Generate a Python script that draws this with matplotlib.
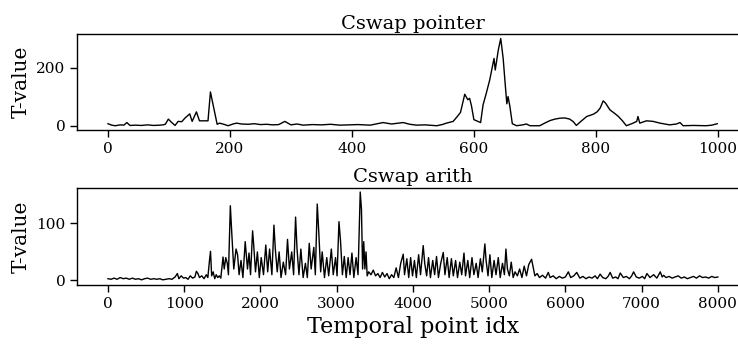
import matplotlib
matplotlib.use('Agg')
import matplotlib.pyplot as plot

plot.rcParams['font.family'] = ['DejaVu Serif']

# Cswap pointer: (temporal point idx, T-value)
pointer_idx = [0, 6, 12, 20, 26, 31, 36, 45, 55, 65, 75, 85, 90, 94, 99, 104, 110, 115,
               121, 126, 134, 138, 145, 150, 164, 168, 179, 183, 190, 197, 205, 211,
               219, 230, 240, 250, 260, 270, 280, 290, 300, 310, 320, 335, 350, 365,
               380, 395, 410, 430, 451, 465, 484, 495, 506, 520, 539, 548, 555, 566,
               572, 578, 585, 590, 593, 596, 600, 611, 615, 620, 626, 633, 635, 640,
               644, 648, 651, 654, 656, 659, 663, 670, 680, 686, 692, 708, 716, 725,
               733, 741, 749, 757, 763, 768, 776, 785, 796, 802, 807, 812, 816, 823,
               830, 837, 844, 850, 860, 867, 869, 872, 883, 894, 905, 921, 932, 938,
               943, 960, 981, 990, 999]
pointer_tval = [7, 2, 0, 3, 2, 11, 1, 2, 1, 3, 1, 2, 3, 5, 23, 12, 1, 15,
                14, 26, 41, 15, 48, 17, 17, 117, 5, 9, 5, 0, 6, 9,
                6, 5, 7, 4, 5, 3, 4, 15, 3, 6, 2, 4, 3, 5,
                2, 3, 4, 2, 11, 6, 11, 5, 2, 3, 0, 4, 9, 15,
                30, 46, 109, 90, 95, 69, 21, 11, 72, 110, 159, 233, 193, 262,
                302, 233, 153, 76, 101, 67, 7, 0, 3, 6, 0, 0, 9, 18,
                23, 26, 27, 23, 14, 1, 16, 32, 40, 48, 61, 86, 78, 55,
                44, 32, 16, 0, 8, 15, 32, 9, 17, 15, 9, 3, 6, 11,
                0, 1, 0, 2, 7]

# Cswap arith: (temporal point idx, T-value)
arith_idx = [0, 40, 80, 120, 160, 200, 240, 280, 320, 360, 400, 440, 480, 520, 560, 600,
             640, 680, 720, 760, 800, 840, 880, 910, 930, 960, 990, 1020, 1050, 1080,
             1110, 1140, 1160, 1180, 1200, 1230, 1260, 1290, 1310, 1330, 1345, 1360,
             1380, 1400, 1420, 1440, 1460, 1480, 1509, 1525, 1545, 1565, 1580, 1605,
             1623, 1650, 1680, 1700, 1720, 1745, 1770, 1800, 1830, 1850, 1870, 1897,
             1910, 1935, 1960, 1985, 2010, 2040, 2070, 2095, 2120, 2150, 2177, 2195,
             2220, 2245, 2270, 2300, 2330, 2355, 2380, 2410, 2435, 2461, 2480, 2505,
             2530, 2560, 2590, 2615, 2640, 2665, 2700, 2720, 2745, 2765, 2790, 2810,
             2840, 2870, 2895, 2930, 2955, 2985, 3005, 3030, 3050, 3075, 3100, 3125,
             3150, 3175, 3200, 3225, 3255, 3280, 3309, 3325, 3340, 3355, 3370, 3385,
             3400, 3420, 3450, 3480, 3510, 3540, 3570, 3600, 3630, 3660, 3690, 3720,
             3750, 3780, 3810, 3840, 3873, 3890, 3920, 3945, 3970, 3995, 4020, 4045,
             4075, 4100, 4135, 4155, 4180, 4205, 4230, 4260, 4285, 4310, 4335, 4365,
             4398, 4420, 4450, 4475, 4505, 4530, 4560, 4585, 4615, 4640, 4670, 4690,
             4720, 4745, 4775, 4800, 4830, 4855, 4885, 4910, 4944, 4960, 4985, 5010,
             5035, 5065, 5090, 5120, 5145, 5175, 5200, 5220, 5240, 5265, 5290, 5315,
             5340, 5370, 5400, 5430, 5460, 5490, 5520, 5557, 5575, 5600, 5630, 5660,
             5700, 5740, 5776, 5800, 5840, 5880, 5920, 5960, 6000, 6039, 6070, 6110,
             6149, 6190, 6230, 6270, 6310, 6350, 6390, 6420, 6456, 6490, 6530, 6560,
             6588, 6620, 6660, 6690, 6720, 6760, 6800, 6840, 6870, 6895, 6930, 6970,
             7010, 7040, 7070, 7110, 7158, 7200, 7245, 7270, 7289, 7320, 7360, 7400,
             7440, 7480, 7520, 7560, 7600, 7640, 7680, 7720, 7760, 7800, 7840, 7880,
             7920, 7960, 8000]
arith_tval = [3, 2, 4, 2, 5, 3, 4, 2, 4, 2, 3, 1, 3, 4, 2, 3,
              2, 3, 1, 2, 3, 2, 6, 12, 3, 8, 4, 5, 2, 8,
              4, 6, 16, 12, 5, 8, 3, 10, 5, 33, 51, 8,
              15, 3, 10, 5, 8, 4, 41, 20, 40, 30, 10, 131,
              85, 20, 55, 45, 10, 35, 5, 68, 20, 48, 10, 87,
              65, 15, 50, 5, 40, 10, 62, 15, 55, 10, 97, 55,
              15, 50, 5, 32, 10, 72, 20, 50, 10, 111, 55, 10,
              55, 5, 30, 5, 65, 20, 58, 10, 134, 85, 15, 50,
              5, 40, 8, 55, 10, 40, 8, 103, 70, 10, 42, 5,
              40, 10, 48, 5, 40, 10, 155, 125, 20, 68, 20, 50,
              8, 15, 10, 18, 8, 12, 5, 14, 6, 12, 3, 10,
              5, 22, 5, 30, 46, 10, 38, 5, 40, 8, 35, 5,
              45, 10, 61, 30, 8, 40, 5, 35, 10, 42, 5, 30,
              49, 10, 40, 5, 38, 8, 35, 5, 32, 10, 48, 8,
              35, 5, 40, 10, 30, 5, 38, 15, 64, 35, 8, 45,
              5, 35, 10, 40, 5, 30, 10, 55, 20, 8, 32, 5,
              15, 8, 20, 5, 25, 8, 28, 37, 25, 8, 12, 5,
              9, 4, 14, 5, 8, 3, 7, 4, 6, 15, 5, 8,
              14, 4, 7, 3, 6, 4, 8, 3, 11, 5, 3, 7,
              14, 4, 6, 3, 13, 5, 7, 3, 8, 15, 6, 4,
              7, 3, 12, 5, 10, 4, 15, 6, 9, 5, 7, 4,
              6, 8, 4, 6, 3, 5, 7, 4, 8, 5, 6, 4,
              7, 5, 6]

fig = plot.figure(figsize=[7.38, 3.45], dpi=100)

ax1 = fig.add_axes([0.105, 0.623, 0.909, 0.278])
ax1.plot(pointer_idx, pointer_tval, color='black', linewidth=1.0)
ax1.set_xlim(-50, 1050)
ax1.set_ylim(-15, 317)
ax1.set_yticks([0, 200])
ax1.set_xticks([0, 200, 400, 600, 800, 1000])
ax1.set_title('Cswap pointer', fontsize=14, pad=4)
ax1.set_ylabel('T-value', fontsize=14.5)

ax2 = fig.add_axes([0.105, 0.174, 0.909, 0.281])
ax2.plot(arith_idx, arith_tval, color='black', linewidth=1.0)
ax2.set_xlim(-400, 8400)
ax2.set_ylim(-8, 162)
ax2.set_yticks([0, 100])
ax2.set_xticks([0, 1000, 2000, 3000, 4000, 5000, 6000, 7000, 8000])
ax2.set_title('Cswap arith', fontsize=14, pad=4)
ax2.set_ylabel('T-value', fontsize=14.5)
ax2.set_xlabel('Temporal point idx', fontsize=16)

for ax in [ax1, ax2]:
    ax.tick_params(labelsize=11, length=5, width=1)
    for s in ax.spines.values():
        s.set_linewidth(1)

fig.savefig('out.png', dpi=100)
